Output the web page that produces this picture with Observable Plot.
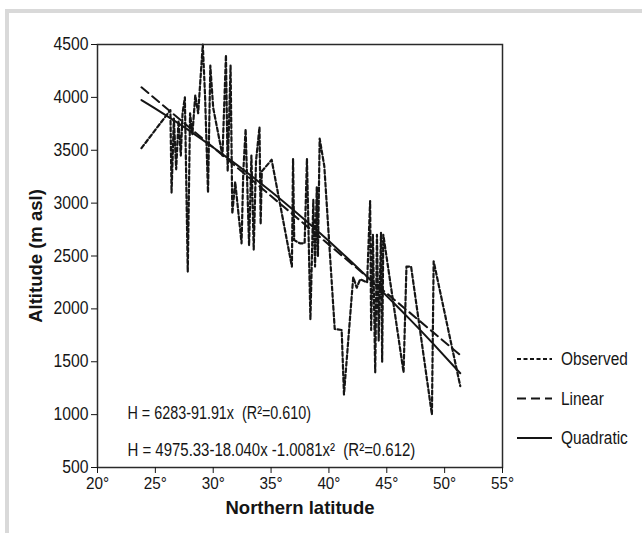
<!DOCTYPE html>
<html><head><meta charset="utf-8">
<script src="https://cdn.jsdelivr.net/npm/d3@7"></script>
<script src="https://cdn.jsdelivr.net/npm/@observablehq/plot@0.6"></script>
<style>
html,body{margin:0;padding:0;background:#fff;}
#wrap{position:relative;width:642px;height:533px;overflow:hidden;}
#border{position:absolute;left:5px;top:9px;width:700px;height:600px;border-left:4px solid #d9d9d9;border-top:4px solid #d9d9d9;}
#chart{position:absolute;left:0;top:0;}
#chart svg{overflow:visible;}
</style></head><body>
<div id="wrap"><div id="border"></div><div id="chart"></div></div>
<script>
// Observed series (northern latitude, altitude m asl)
const obsLat = [23.8, 26.3, 26.4, 26.6, 26.8, 27.0, 27.2, 27.35, 27.55, 27.8, 28.0, 28.2, 28.45, 28.7, 29.1, 29.3, 29.55, 29.75, 30.0, 30.8, 31.1, 31.25, 31.5, 31.65, 31.9, 32.45, 32.6, 32.8, 33.1, 33.3, 33.5, 33.7, 34.0, 34.1, 34.2, 35.05, 36.8, 36.9, 37.0, 37.5, 37.9, 38.1, 38.4, 38.65, 38.8, 38.95, 39.05, 39.2, 39.6, 40.5, 41.1, 41.3, 42.1, 42.4, 42.7, 43.3, 43.56, 43.65, 43.8, 44.0, 44.15, 44.3, 44.5, 44.6, 44.7, 46.45, 46.7, 47.1, 48.9, 49.05, 51.35];
const obsAlt = [3520, 3880, 3100, 3800, 3320, 3780, 3450, 3850, 4000, 2350, 3850, 3650, 4020, 3850, 4500, 4000, 3100, 4300, 3900, 3450, 4400, 3300, 4300, 2900, 3200, 2620, 3300, 3700, 2600, 3450, 2560, 3400, 3720, 2800, 3300, 3410, 2400, 3420, 2650, 2620, 2620, 3420, 1900, 3030, 2400, 3150, 2500, 3610, 3350, 1810, 1800, 1190, 2300, 2200, 2280, 2250, 3020, 1800, 2700, 1400, 2700, 1700, 2720, 1500, 2700, 1400, 2400, 2400, 1000, 2450, 1270];

// Regression coefficients printed on the figure
const linearCoef = [6283, -91.91];
const quadCoef = [4975.33, -18.040, -1.0081];
const fitLat = [23.8, 25, 27, 29, 31, 33, 35, 37, 39, 41, 43, 45, 47, 49, 51.35];

const xTicks = [20, 25, 30, 35, 40, 45, 50, 55];
const yTicks = [500, 1000, 1500, 2000, 2500, 3000, 3500, 4000, 4500];
const equations = ["H = 6283-91.91x  (R²=0.610)", "H = 4975.33-18.040x -1.0081x²  (R²=0.612)"];
const legendLabels = ["Observed", "Linear", "Quadratic"];
const xTitle = "Northern latitude";
const yTitle = "Altitude (m asl)";

const observed = obsLat.map((x, i) => ({x, y: obsAlt[i]}));
const linear = [fitLat[0], fitLat[fitLat.length - 1]].map(x => ({x, y: linearCoef[0] + linearCoef[1] * x}));
const quad = fitLat.map(x => ({x, y: quadCoef[0] + quadCoef[1] * x + quadCoef[2] * x * x}));

const font = "'Liberation Sans', Arial, sans-serif";
const ink = "#151515";

const chart = Plot.plot({
  width: 642, height: 533,
  marginLeft: 97, marginRight: 140, marginTop: 44, marginBottom: 66,
  style: {fontFamily: font, fontSize: "18px", color: ink, background: "transparent"},
  x: {domain: [20, 55]},
  y: {domain: [500, 4500]},
  marks: [
    Plot.line(observed, {x: "x", y: "y", stroke: ink, strokeWidth: 2.2, strokeDasharray: "4,2.5"}),
    Plot.line(linear, {x: "x", y: "y", stroke: ink, strokeWidth: 2, strokeDasharray: "9,5"}),
    Plot.line(quad, {x: "x", y: "y", stroke: ink, strokeWidth: 2, curve: "natural"}),
    Plot.frame({stroke: "#2a2a2a", strokeWidth: 1.5}),
    Plot.axisX({ticks: xTicks, tickFormat: d => d + "°", tickSize: 6, tickPadding: 3, label: null, stroke: ink, fontSize: 17, className: "narrow"}),
    Plot.axisY({ticks: yTicks, tickFormat: d => String(d), tickSize: 6, tickPadding: 3, label: null, stroke: ink, fontSize: 17.5, className: "narrow"}),
    Plot.text([equations[0]], {text: d => d, frameAnchor: "bottom-left", textAnchor: "start", lineAnchor: "middle", dx: 30, dy: -54, fontSize: 17.5, fill: ink, className: "eq1"}),
    Plot.text([equations[1]], {text: d => d, frameAnchor: "bottom-left", textAnchor: "start", lineAnchor: "middle", dx: 30, dy: -17, fontSize: 17.5, fill: ink, className: "eq2"}),
    Plot.text([xTitle], {text: d => d, frameAnchor: "bottom", lineAnchor: "middle", dy: 41, fontSize: 18.5, fontWeight: "bold", fill: ink}),
    Plot.text([yTitle], {text: d => d, frameAnchor: "left", rotate: -90, lineAnchor: "middle", textAnchor: "middle", dx: -61, fontSize: 18.5, fontWeight: "bold", fill: ink})
  ]
});
document.getElementById("chart").appendChild(chart);

// Legend to the right of the plot frame
const svg = d3.select(chart);
const lg = svg.append("g").attr("class", "legend").attr("font-family", font).attr("font-size", 17.5).attr("fill", ink).attr("text-anchor", "start");
const dashes = ["4,2.5", "9,5", null];
legendLabels.forEach((lab, i) => {
  const yy = 359 + i * 39.5;
  lg.append("line").attr("x1", 517).attr("x2", 552).attr("y1", yy).attr("y2", yy)
    .attr("stroke", ink).attr("stroke-width", 2).attr("stroke-dasharray", dashes[i]);
  lg.append("text").attr("x", 561).attr("y", yy).attr("dy", "0.35em").attr("text-anchor", "start").text(lab);
});

// The figure uses a condensed sans face; compress the glyphs horizontally
function condense(sel, k) {
  sel.each(function() {
    const len = this.getComputedTextLength();
    if (len > 0) {
      this.setAttribute("textLength", (len * k).toFixed(1));
      this.setAttribute("lengthAdjust", "spacingAndGlyphs");
    }
  });
}
condense(svg.selectAll("g.narrow text"), 0.9);
condense(svg.selectAll("g.eq1 text"), 0.82);
condense(svg.selectAll("g.eq2 text"), 0.855);
condense(svg.selectAll("g.legend text"), 0.88);
</script>
</body></html>
